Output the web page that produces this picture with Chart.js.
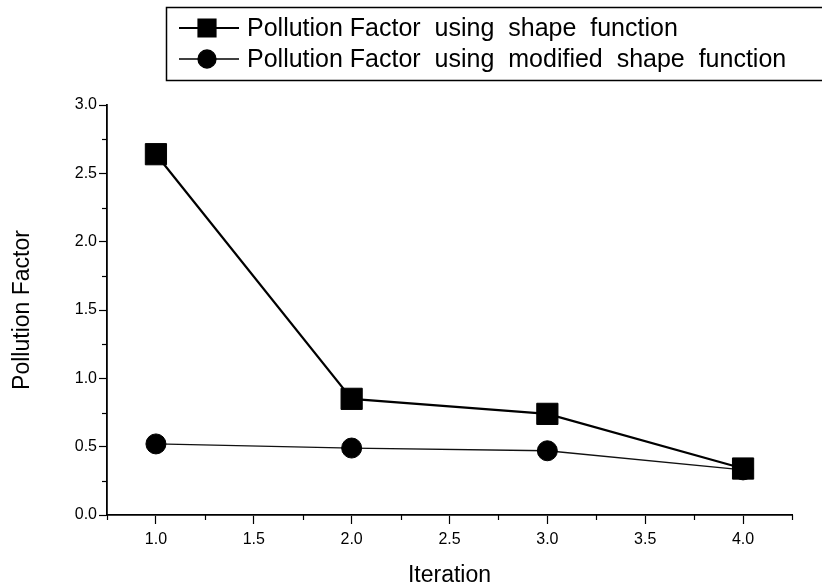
<!DOCTYPE html>
<html><head><meta charset="utf-8">
<script src="https://cdn.jsdelivr.net/npm/chart.js@4.4.0/dist/chart.umd.min.js"></script>
<style>html,body{margin:0;padding:0;background:#fff;}#wrap{width:822px;height:587px;position:relative;}</style>
</head><body><div id="wrap"><canvas id="c" width="822" height="587"></canvas></div>
<script>
const iterations = [1, 2, 3, 4];
const pfShape = [2.64, 0.85, 0.74, 0.34];
const pfModified = [0.52, 0.49, 0.47, 0.33];
const seriesNames = ['Pollution Factor  using  shape  function', 'Pollution Factor  using  modified  shape  function'];
const xTickValues = [1.0, 1.5, 2.0, 2.5, 3.0, 3.5, 4.0];
const yTickValues = [0.0, 0.5, 1.0, 1.5, 2.0, 2.5, 3.0];
const xTitle = 'Iteration';
const yTitle = 'Pollution Factor';
const xRange = [0.75, 4.25];
const yRange = [0, 3];

const FONT = '"Liberation Sans", Arial, sans-serif';

const minorTicks = {
  id: 'minorTicks',
  afterDraw(chart) {
    const ctx = chart.ctx, xs = chart.scales.x, ys = chart.scales.y;
    ctx.save();
    ctx.strokeStyle = '#000'; ctx.lineWidth = 1.2;
    for (let v = xRange[0]; v <= xRange[1] + 1e-9; v += 0.25) {
      if (xTickValues.some(t => Math.abs(t - v) < 1e-9)) continue;
      const px = Math.round(xs.getPixelForValue(v)) + 0.5;
      ctx.beginPath(); ctx.moveTo(px, ys.bottom); ctx.lineTo(px, ys.bottom + 5); ctx.stroke();
    }
    for (let v = yRange[0] + 0.25; v < yRange[1]; v += 0.5) {
      const py = Math.round(ys.getPixelForValue(v)) + 0.5;
      ctx.beginPath(); ctx.moveTo(xs.left - 5, py); ctx.lineTo(xs.left, py); ctx.stroke();
    }
    ctx.restore();
  }
};

const boxLegend = {
  id: 'boxLegend',
  afterDraw(chart) {
    const ctx = chart.ctx;
    ctx.save();
    ctx.strokeStyle = '#000'; ctx.lineWidth = 1.5;
    ctx.strokeRect(166.5, 7.5, 700, 73);
    const rows = [28, 59];
    chart.data.datasets.forEach((ds, i) => {
      const y = rows[i];
      ctx.strokeStyle = '#000'; ctx.lineWidth = ds.borderWidth;
      ctx.beginPath(); ctx.moveTo(179, y); ctx.lineTo(239, y); ctx.stroke();
      ctx.fillStyle = '#000';
      Chart.helpers.drawPoint(ctx, {pointStyle: ds.pointStyle, radius: ds.legendRadius, borderWidth: 1}, 207, y);
      ctx.fillStyle = '#000';
      ctx.font = '25px ' + FONT;
      ctx.textBaseline = 'middle'; ctx.textAlign = 'left';
      ctx.fillText(ds.label, 247, y + 1);
    });
    ctx.restore();
  }
};

new Chart(document.getElementById('c'), {
  type: 'line',
  data: {
    datasets: [
      { label: seriesNames[0], data: iterations.map((x, i) => ({x, y: pfShape[i]})),
        borderColor: '#000', backgroundColor: '#000', borderWidth: 2.2,
        pointStyle: 'rect', pointRadius: 15, pointBorderWidth: 1, legendRadius: 12, pointHoverRadius: 15 },
      { label: seriesNames[1], data: iterations.map((x, i) => ({x, y: pfModified[i]})),
        borderColor: '#111', backgroundColor: '#000', borderWidth: 1.3, pointBorderColor: '#000',
        pointStyle: 'circle', pointRadius: 10, pointBorderWidth: 1, legendRadius: 9, pointHoverRadius: 10 }
    ]
  },
  options: {
    responsive: false, animation: false, devicePixelRatio: 1,
    layout: { padding: { left: 0, right: 30, top: 105, bottom: 0 } },
    plugins: { legend: { display: false }, tooltip: { enabled: false } },
    scales: {
      x: {
        type: 'linear', min: xRange[0], max: xRange[1],
        afterFit(s) { s.height = 72; },
        afterBuildTicks(s) { s.ticks = xTickValues.map(v => ({ value: v })); },
        grid: { drawOnChartArea: false, drawTicks: true, tickLength: 9, color: '#000', tickWidth: 1.2 },
        border: { display: true, color: '#000', width: 1.8 },
        ticks: { color: '#000', padding: 6, maxRotation: 0, autoSkip: false,
          font: { family: FONT, size: 16 }, callback: v => Number(v).toFixed(1) },
        title: { display: true, text: xTitle, color: '#000', font: { family: FONT, size: 23, lineHeight: 1.0 }, padding: { top: 0, bottom: 0 } }
      },
      y: {
        type: 'linear', min: yRange[0], max: yRange[1],
        afterFit(s) { s.width = 107; },
        afterBuildTicks(s) { s.ticks = yTickValues.map(v => ({ value: v })); },
        grid: { drawOnChartArea: false, drawTicks: true, tickLength: 8, color: '#000', tickWidth: 1.2 },
        border: { display: true, color: '#000', width: 1.8 },
        ticks: { color: '#000', padding: 2, autoSkip: false,
          font: { family: FONT, size: 16 }, callback: v => Number(v).toFixed(1) },
        title: { display: true, text: yTitle, color: '#000', font: { family: FONT, size: 23, lineHeight: 1.0 }, padding: { top: 11, bottom: 4 } }
      }
    }
  },
  plugins: [minorTicks, boxLegend]
});
</script></body></html>
